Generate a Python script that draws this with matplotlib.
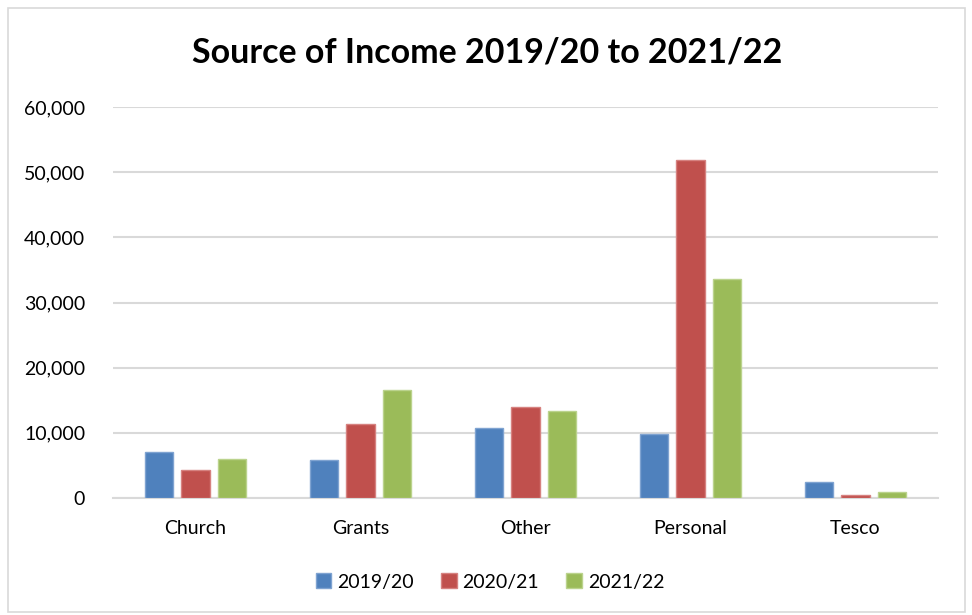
import matplotlib
matplotlib.use("Agg")
import matplotlib.pyplot as plt
import numpy as np
from matplotlib.patches import Rectangle

categories = ["Church", "Grants", "Other", "Personal", "Tesco"]
series = ["2019/20", "2020/21", "2021/22"]
v2019 = [7050, 5800, 10750, 9800, 2500]
v2020 = [4300, 11400, 14000, 51800, 400]
v2021 = [6000, 16500, 13400, 33650, 950]
colors = ["#4F81BD", "#C0504D", "#9BBB59"]
edges = ["#7FA3D1", "#D68280", "#BBD38D"]
yticks = [0, 10000, 20000, 30000, 40000, 50000, 60000]

plt.rcParams['font.family'] = ['Lato', 'DejaVu Sans']

fig = plt.figure(figsize=(9.72, 6.15), dpi=100)
fig.patches.append(Rectangle((8/972, 3/615), 957/972, 604/615, transform=fig.transFigure,
                             fill=False, edgecolor="#D9D9D9", linewidth=1.2))
ax = fig.add_axes([113/972, 1-498/615, 825/972, 391/615])

x = np.arange(len(categories))
step = 0.222
w = 0.173
for i, (vals, c, e, s) in enumerate(zip([v2019, v2020, v2021], colors, edges, series)):
    ax.bar(x + (i-1)*step, vals, width=w, color=c, edgecolor=e, linewidth=1.0, label=s, zorder=3)

ax.set_xlim(-0.5, len(categories)-0.5)
ax.set_ylim(0, 60000)
ax.set_yticks(yticks)
ax.set_yticklabels([f"{t:,}" for t in yticks], fontsize=14)
ax.set_xticks(x)
ax.set_xticklabels(categories, fontsize=14)
ax.grid(axis='y', color="#D9D9D9", linewidth=1.5, zorder=0)
ax.set_axisbelow(True)
for sp in ["top", "right", "left"]:
    ax.spines[sp].set_visible(False)
ax.spines["bottom"].set_color("#D9D9D9")
ax.spines["bottom"].set_linewidth(1.5)
ax.tick_params(axis='both', length=0, colors="black")
ax.tick_params(axis='y', pad=20)
ax.tick_params(axis='x', pad=16)

fig.text(487/972, 1-52/615, "Source of Income 2019/20 to 2021/22", ha='center', va='center',
         fontsize=24.5, fontweight='bold')

leg = fig.legend(loc='center', bbox_to_anchor=(490/972, 1-582/615), ncol=3, frameon=False,
                 fontsize=14, handlelength=0.8, handleheight=0.8, handletextpad=0.3, columnspacing=1.4)

fig.savefig("out.png", dpi=100)
